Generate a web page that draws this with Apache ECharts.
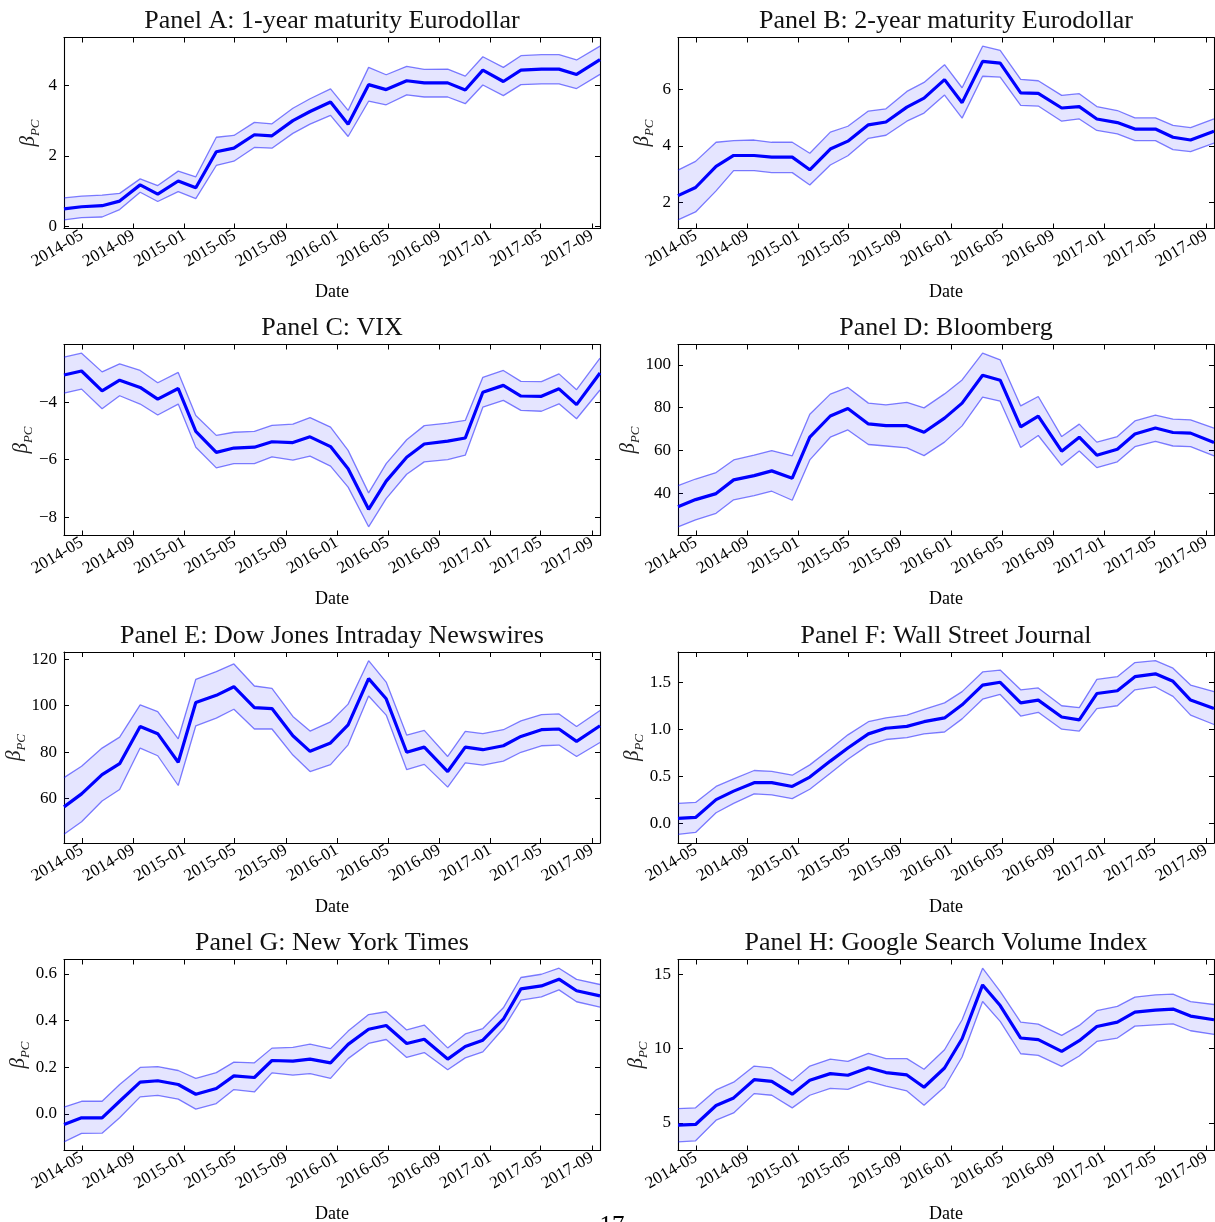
<!DOCTYPE html>
<html>
<head>
<meta charset="utf-8">
<title>Event-window betas</title>
<script src="https://cdn.jsdelivr.net/npm/echarts@6/dist/echarts.min.js"></script>
<style>
  html, body { margin: 0; padding: 0; background: #ffffff; }
  #chart { width: 1215px; height: 1222px; }
</style>
</head>
<body>
<div id="chart"></div>
<script>
// FOMC announcement dates (x values shared by every panel)
const meetingDates = [
  '2014-03-19', '2014-04-30', '2014-06-18', '2014-07-30', '2014-09-17', '2014-10-29', '2014-12-17',
  '2015-01-28', '2015-03-18', '2015-04-29', '2015-06-17', '2015-07-29', '2015-09-17', '2015-10-28', '2015-12-16',
  '2016-01-27', '2016-03-16', '2016-04-27', '2016-06-15', '2016-07-27', '2016-09-21', '2016-11-02', '2016-12-14',
  '2017-02-01', '2017-03-15', '2017-05-03', '2017-06-14', '2017-07-26', '2017-09-20'
];

const xTickLabels = ['2014-05', '2014-09', '2015-01', '2015-05', '2015-09', '2016-01',
                     '2016-05', '2016-09', '2017-01', '2017-05', '2017-09'];

const panelTitles = [
  'Panel A: 1-year maturity Eurodollar',
  'Panel B: 2-year maturity Eurodollar',
  'Panel C: VIX',
  'Panel D: Bloomberg',
  'Panel E: Dow Jones Intraday Newswires',
  'Panel F: Wall Street Journal',
  'Panel G: New York Times',
  'Panel H: Google Search Volume Index'
];

// Panel A: 1-year maturity Eurodollar
const eurodollar1yMid   = [0.50, 0.56, 0.59, 0.72, 1.18, 0.92, 1.29, 1.10, 2.12, 2.22, 2.60, 2.57, 3.00, 3.26, 3.53, 2.90, 4.02, 3.88, 4.13, 4.07, 4.07, 3.87, 4.43, 4.11, 4.43, 4.46, 4.46, 4.31, 4.73];
const eurodollar1yUpper = [0.81, 0.86, 0.89, 0.94, 1.35, 1.16, 1.57, 1.41, 2.53, 2.58, 2.95, 2.91, 3.35, 3.62, 3.90, 3.29, 4.51, 4.30, 4.54, 4.45, 4.46, 4.26, 4.81, 4.51, 4.84, 4.87, 4.87, 4.72, 5.11];
const eurodollar1yLower = [0.19, 0.25, 0.27, 0.48, 0.97, 0.71, 0.99, 0.79, 1.73, 1.85, 2.24, 2.22, 2.64, 2.90, 3.15, 2.55, 3.55, 3.45, 3.73, 3.67, 3.67, 3.48, 4.01, 3.71, 4.02, 4.04, 4.04, 3.91, 4.31];
const eurodollar1yTicks = ['0', '2', '4'];

// Panel B: 2-year maturity Eurodollar
const eurodollar2yMid   = [2.23, 2.52, 3.27, 3.66, 3.66, 3.60, 3.60, 3.15, 3.89, 4.17, 4.75, 4.85, 5.38, 5.70, 6.36, 5.54, 7.01, 6.95, 5.89, 5.87, 5.35, 5.40, 4.96, 4.83, 4.60, 4.60, 4.31, 4.21, 4.52];
const eurodollar2yUpper = [3.14, 3.45, 4.13, 4.19, 4.21, 4.13, 4.13, 3.74, 4.49, 4.70, 5.24, 5.32, 5.94, 6.26, 6.89, 6.07, 7.55, 7.40, 6.37, 6.32, 5.80, 5.86, 5.40, 5.26, 5.00, 5.00, 4.73, 4.65, 4.96];
const eurodollar2yLower = [1.37, 1.65, 2.40, 3.12, 3.12, 3.05, 3.05, 2.61, 3.32, 3.65, 4.27, 4.38, 4.88, 5.17, 5.81, 4.99, 6.48, 6.45, 5.44, 5.42, 4.88, 4.96, 4.55, 4.43, 4.19, 4.19, 3.87, 3.80, 4.10];
const eurodollar2yTicks = ['2', '4', '6'];

// Panel C: VIX
const vixMid   = [-3.06, -2.92, -3.61, -3.24, -3.49, -3.90, -3.53, -5.02, -5.75, -5.60, -5.57, -5.38, -5.41, -5.21, -5.55, -6.32, -7.73, -6.75, -5.92, -5.46, -5.36, -5.25, -3.66, -3.42, -3.79, -3.80, -3.54, -4.09, -2.99];
const vixUpper = [-2.44, -2.30, -2.95, -2.67, -2.90, -3.33, -2.97, -4.47, -5.16, -5.05, -5.02, -4.81, -4.77, -4.54, -4.87, -5.68, -7.16, -6.14, -5.31, -4.82, -4.73, -4.64, -3.14, -2.90, -3.28, -3.29, -3.02, -3.57, -2.47];
const vixLower = [-3.69, -3.55, -4.23, -3.78, -4.07, -4.45, -4.07, -5.57, -6.29, -6.14, -6.14, -5.91, -6.02, -5.88, -6.23, -6.96, -8.34, -7.36, -6.51, -6.08, -6.00, -5.85, -4.18, -3.94, -4.29, -4.32, -4.06, -4.58, -3.58];
const vixTicks = ['\u22128', '\u22126', '\u22124'];

// Panel D: Bloomberg
const bloombergMid   = [33.8, 37.1, 39.9, 46.3, 48.3, 50.5, 47.1, 66.2, 76.1, 79.6, 72.4, 71.6, 71.6, 68.5, 75.1, 82.1, 95.1, 92.8, 71.0, 76.0, 59.7, 66.2, 57.8, 60.6, 67.7, 70.5, 68.4, 68.1, 63.7];
const bloombergUpper = [43.6, 46.7, 49.7, 55.6, 57.8, 60.0, 57.5, 76.9, 86.3, 89.4, 82.1, 81.3, 82.5, 79.9, 86.4, 92.9, 105.4, 102.3, 80.8, 85.2, 66.5, 72.3, 63.9, 66.5, 73.8, 76.5, 74.6, 74.3, 70.4];
const bloombergLower = [24.4, 27.6, 30.7, 37.0, 39.0, 41.0, 36.8, 55.6, 66.2, 69.6, 62.8, 62.1, 61.2, 57.6, 63.9, 71.5, 84.9, 83.0, 61.4, 67.0, 53.1, 59.8, 52.0, 54.7, 61.8, 64.3, 62.1, 61.8, 57.5];
const bloombergTicks = ['20', '40', '60', '80', '100'];

// Panel E: Dow Jones Intraday Newswires
const dowJonesMid   = [56.4, 62.0, 70.3, 75.0, 91.0, 87.9, 75.6, 101.3, 104.4, 108.1, 99.1, 98.7, 87.0, 80.3, 83.9, 91.7, 111.6, 102.9, 79.9, 82.1, 71.6, 82.1, 81.0, 82.7, 86.7, 89.6, 89.9, 84.6, 91.3];
const dowJonesUpper = [69.0, 73.9, 81.7, 86.4, 100.3, 97.4, 85.7, 111.3, 114.6, 117.9, 108.4, 107.4, 95.3, 89.0, 93.0, 100.6, 119.3, 110.1, 87.3, 89.3, 78.1, 88.9, 87.9, 89.6, 93.4, 96.1, 96.4, 91.0, 97.9];
const dowJonesLower = [44.6, 50.0, 58.9, 63.9, 81.7, 78.4, 65.6, 91.3, 94.6, 98.4, 89.9, 89.9, 78.7, 71.6, 74.6, 83.1, 104.1, 95.9, 72.4, 74.7, 64.9, 75.3, 74.4, 76.1, 79.9, 82.7, 83.0, 78.1, 84.1];
const dowJonesTicks = ['60', '80', '100', '120'];

// Panel F: Wall Street Journal
const wsjMid   = [0.05, 0.06, 0.25, 0.34, 0.43, 0.43, 0.39, 0.49, 0.66, 0.80, 0.95, 1.01, 1.03, 1.08, 1.12, 1.26, 1.47, 1.50, 1.28, 1.31, 1.13, 1.10, 1.38, 1.41, 1.56, 1.59, 1.51, 1.31, 1.22];
const wsjUpper = [0.21, 0.22, 0.39, 0.47, 0.56, 0.55, 0.51, 0.62, 0.79, 0.94, 1.08, 1.12, 1.15, 1.21, 1.28, 1.40, 1.61, 1.63, 1.42, 1.44, 1.25, 1.23, 1.53, 1.56, 1.71, 1.73, 1.65, 1.47, 1.40];
const wsjLower = [-0.12, -0.10, 0.11, 0.21, 0.31, 0.30, 0.26, 0.36, 0.53, 0.68, 0.83, 0.89, 0.91, 0.95, 0.97, 1.11, 1.32, 1.37, 1.14, 1.18, 1.00, 0.98, 1.22, 1.25, 1.42, 1.45, 1.35, 1.15, 1.05];
const wsjTicks = ['0.0', '0.5', '1.0', '1.5'];

// Panel G: New York Times
const nytMid   = [-0.046, -0.017, -0.017, 0.054, 0.136, 0.142, 0.126, 0.084, 0.109, 0.163, 0.156, 0.229, 0.226, 0.235, 0.219, 0.298, 0.363, 0.379, 0.302, 0.320, 0.235, 0.289, 0.316, 0.406, 0.536, 0.549, 0.578, 0.528, 0.506];
const nytUpper = [0.029, 0.054, 0.054, 0.126, 0.199, 0.203, 0.186, 0.152, 0.177, 0.222, 0.219, 0.282, 0.285, 0.299, 0.280, 0.355, 0.426, 0.438, 0.360, 0.381, 0.283, 0.343, 0.366, 0.455, 0.585, 0.599, 0.625, 0.577, 0.555];
const nytLower = [-0.120, -0.084, -0.083, -0.017, 0.073, 0.079, 0.063, 0.020, 0.044, 0.104, 0.094, 0.176, 0.166, 0.173, 0.152, 0.237, 0.302, 0.319, 0.242, 0.263, 0.189, 0.240, 0.266, 0.366, 0.488, 0.502, 0.532, 0.481, 0.458];
const nytTicks = ['0.0', '0.2', '0.4', '0.6'];

// Panel H: Google Search Volume Index
const googleMid   = [4.84, 4.89, 6.17, 6.68, 7.91, 7.80, 6.93, 7.87, 8.32, 8.21, 8.72, 8.39, 8.23, 7.40, 8.70, 10.67, 14.30, 12.91, 10.72, 10.61, 9.82, 10.54, 11.50, 11.79, 12.47, 12.60, 12.67, 12.20, 11.95];
const googleUpper = [5.96, 6.01, 7.22, 7.74, 8.83, 8.70, 7.83, 8.83, 9.30, 9.15, 9.69, 9.33, 9.33, 8.61, 9.93, 11.95, 15.43, 13.86, 11.79, 11.66, 10.90, 11.57, 12.56, 12.85, 13.48, 13.63, 13.68, 13.18, 12.98];
const googleLower = [3.72, 3.79, 5.18, 5.67, 6.97, 6.86, 6.01, 6.86, 7.33, 7.26, 7.80, 7.47, 7.15, 6.19, 7.42, 9.44, 13.18, 11.84, 9.66, 9.55, 8.81, 9.51, 10.49, 10.72, 11.52, 11.61, 11.68, 11.21, 10.96];
const googleTicks = ['5', '10', '15'];

const panels = [
  { mid: eurodollar1yMid, upper: eurodollar1yUpper, lower: eurodollar1yLower, ticks: eurodollar1yTicks },
  { mid: eurodollar2yMid, upper: eurodollar2yUpper, lower: eurodollar2yLower, ticks: eurodollar2yTicks },
  { mid: vixMid,          upper: vixUpper,          lower: vixLower,          ticks: vixTicks },
  { mid: bloombergMid,    upper: bloombergUpper,    lower: bloombergLower,    ticks: bloombergTicks },
  { mid: dowJonesMid,     upper: dowJonesUpper,     lower: dowJonesLower,     ticks: dowJonesTicks },
  { mid: wsjMid,          upper: wsjUpper,          lower: wsjLower,          ticks: wsjTicks },
  { mid: nytMid,          upper: nytUpper,          lower: nytLower,          ticks: nytTicks },
  { mid: googleMid,       upper: googleUpper,       lower: googleLower,       ticks: googleTicks }
];

// ---- layout & styling ----
const FONT = '"Liberation Serif", "DejaVu Serif", serif';
const TICK_FONT_SIZE = 17;
const colLeft = [64, 678];
const rowTop = [37.5, 344.5, 652, 959.5];
const plotW = 536, plotH = 191;

const toUTC = s => {
  const p = s.split('-').map(Number);
  return Date.UTC(p[0], p[1] - 1, p[2] || 1);
};
const xs = meetingDates.map(toUTC);
const xTickValues = xTickLabels.map(toUTC);
const xMin = xs[0], xMax = xs[xs.length - 1];
const fmtMonth = v => {
  const d = new Date(v);
  return d.getUTCFullYear() + '-' + String(d.getUTCMonth() + 1).padStart(2, '0');
};

const tickStyle = { show: true, inside: true, length: 5, lineStyle: { color: '#000', width: 1 } };
const frameLine = { show: true, onZero: false, lineStyle: { color: '#000', width: 1.1 } };

const grids = [], xAxes = [], yAxes = [], mirrorX = [], mirrorY = [], series = [], graphics = [];

panels.forEach((p, i) => {
  const col = i % 2, row = Math.floor(i / 2);
  const left = colLeft[col], top = rowTop[row];
  grids.push({ left: left, top: top, width: plotW, height: plotH, show: false,
               outerBoundsMode: 'none' });

  // y-range: data extent padded by 5% on each side
  const lo = Math.min.apply(null, p.lower), hi = Math.max.apply(null, p.upper);
  const pad = (hi - lo) * 0.05;
  const yMin = lo - pad, yMax = hi + pad;
  const yTickValues = p.ticks.map(t => Number(t.replace('\u2212', '-')));
  const yLabelOf = {};
  yTickValues.forEach((v, k) => { yLabelOf[v.toFixed(4)] = p.ticks[k]; });

  // wide tick labels push the y-name further out
  const wideLabels = p.ticks.some(t => t.length >= 3);

  xAxes.push({
    type: 'value', gridIndex: i, position: 'bottom', min: xMin, max: xMax,
    axisLine: frameLine, splitLine: { show: false },
    axisTick: Object.assign({ customValues: xTickValues }, tickStyle),
    axisLabel: {
      customValues: xTickValues, formatter: fmtMonth, rotate: 30, margin: 6,
      fontFamily: FONT, fontSize: TICK_FONT_SIZE, color: '#000'
    },
    name: 'Date', nameLocation: 'middle', nameGap: 55,
    nameTextStyle: { fontFamily: FONT, fontSize: 18, color: '#000' }
  });
  yAxes.push({
    type: 'value', gridIndex: i, position: 'left', min: yMin, max: yMax,
    axisLine: frameLine, splitLine: { show: false },
    axisTick: Object.assign({ customValues: yTickValues }, tickStyle),
    axisLabel: {
      customValues: yTickValues, margin: 7,
      formatter: v => yLabelOf[Number(v).toFixed(4)] || '',
      fontFamily: FONT, fontSize: TICK_FONT_SIZE, color: '#000'
    },
    name: '{b|\u03B2}{s|PC}', nameLocation: 'middle', nameRotate: 90,
    nameGap: wideLabels ? 36 : 26,
    nameTextStyle: {
      rich: {
        b: { fontFamily: FONT, fontStyle: 'italic', fontSize: 21, color: '#222', lineHeight: 20, verticalAlign: 'top' },
        s: { fontFamily: FONT, fontStyle: 'italic', fontSize: 13, color: '#222', lineHeight: 13, padding: [11, 0, 0, 0], verticalAlign: 'top' }
      }
    }
  });

  // mirrored top / right axes carry the inward ticks of the closed frame
  mirrorX.push({
    type: 'value', gridIndex: i, position: 'top', min: xMin, max: xMax,
    axisLine: frameLine, splitLine: { show: false },
    axisTick: Object.assign({ customValues: xTickValues }, tickStyle),
    axisLabel: { show: false }
  });
  mirrorY.push({
    type: 'value', gridIndex: i, position: 'right', min: yMin, max: yMax,
    axisLine: frameLine, splitLine: { show: false },
    axisTick: Object.assign({ customValues: yTickValues }, tickStyle),
    axisLabel: { show: false }
  });

  const pairs = arr => xs.map((t, k) => [t, arr[k]]);
  // confidence band
  series.push({
    type: 'custom', xAxisIndex: i, yAxisIndex: i, silent: true, clip: true, z: 1,
    data: [[xs[0], p.mid[0]]],
    renderItem: (params, api) => {
      const pts = [];
      for (let k = 0; k < xs.length; k++) pts.push(api.coord([xs[k], p.upper[k]]));
      for (let k = xs.length - 1; k >= 0; k--) pts.push(api.coord([xs[k], p.lower[k]]));
      return { type: 'polygon', shape: { points: pts }, style: { fill: 'rgba(0,0,255,0.1)', stroke: 'none' } };
    }
  });
  [p.upper, p.lower].forEach(edge => {
    series.push({
      type: 'line', xAxisIndex: i, yAxisIndex: i, data: pairs(edge), z: 2,
      symbol: 'none', silent: true,
      lineStyle: { color: 'rgba(0,0,255,0.5)', width: 1.3 }
    });
  });
  series.push({
    type: 'line', xAxisIndex: i, yAxisIndex: i, data: pairs(p.mid), z: 3,
    symbol: 'none', silent: true,
    lineStyle: { color: '#0000ff', width: 3.2 }
  });

  graphics.push({
    type: 'text', x: left + plotW / 2, y: top - 16,
    style: { text: panelTitles[i], textAlign: 'center', textVerticalAlign: 'middle',
             font: '26px ' + FONT, fill: '#111' }
  });
});

// page number at the foot of the sheet
graphics.push({
  type: 'text', x: 612, y: 1214,
  style: { text: '17', textAlign: 'center', textVerticalAlign: 'top', font: '25px ' + FONT, fill: '#000' }
});

const chart = echarts.init(document.getElementById('chart'), null, { renderer: 'canvas' });
chart.setOption({
  animation: false,
  backgroundColor: '#ffffff',
  grid: grids,
  xAxis: xAxes.concat(mirrorX),
  yAxis: yAxes.concat(mirrorY),
  series: series,
  graphic: graphics
});
</script>
</body>
</html>
